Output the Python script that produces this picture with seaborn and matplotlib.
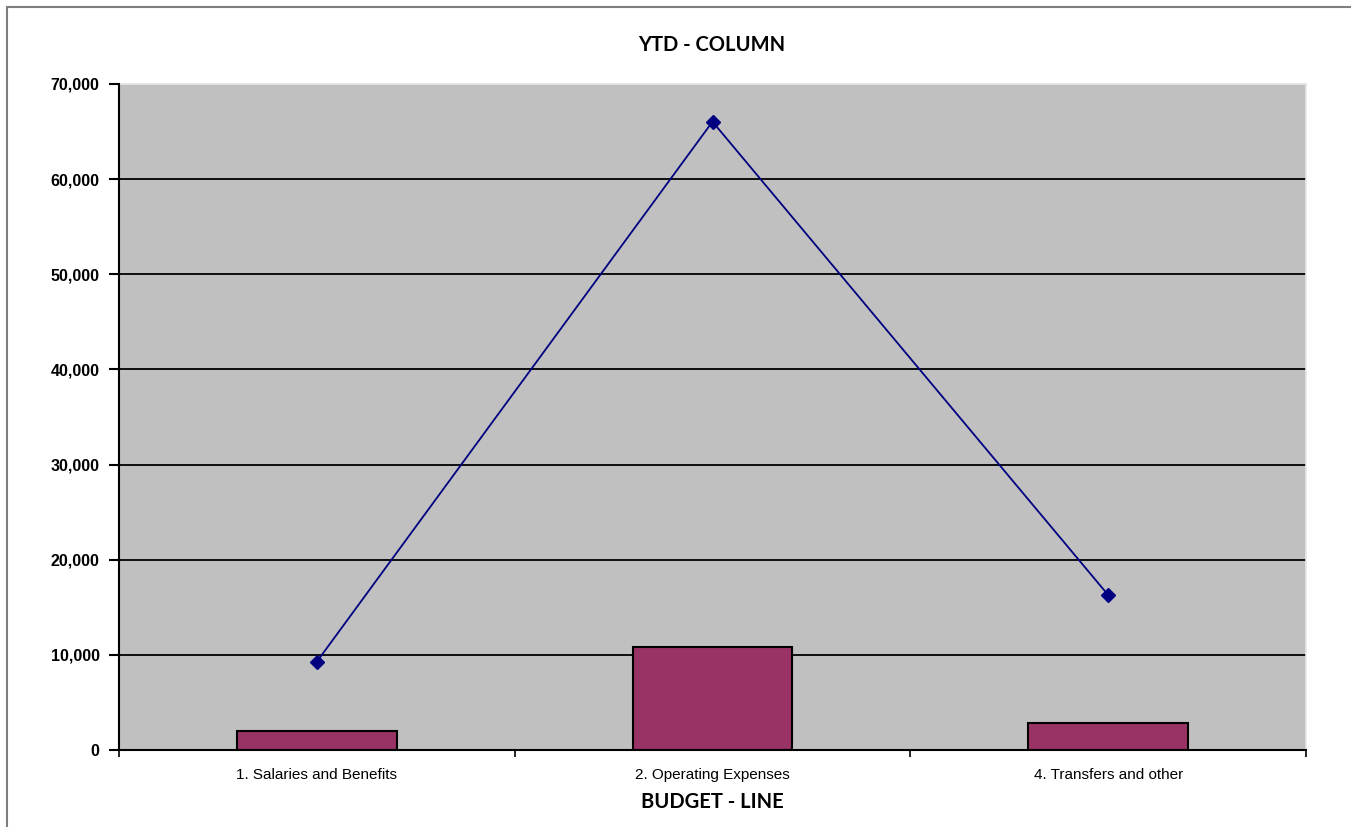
import matplotlib
matplotlib.use("Agg")
import matplotlib.pyplot as plt
import seaborn as sns
import pandas as pd
from matplotlib.patches import Rectangle
from matplotlib.ticker import FuncFormatter, FixedLocator

# Budget lines and year-to-date figures
categories = ["1. Salaries and Benefits", "2. Operating Expenses", "4. Transfers and other"]
column_values = [2030, 10800, 2870]
line_values = [9280, 66040, 16290]
y_ticks = [0, 10000, 20000, 30000, 40000, 50000, 60000, 70000]

df = pd.DataFrame({"category": categories, "column": column_values, "line": line_values})

sns.set_style("white")
plt.rcParams["font.family"] = ["Liberation Sans", "DejaVu Sans"]
plt.rcParams["text.color"] = "black"
plt.rcParams["xtick.color"] = "black"
plt.rcParams["ytick.color"] = "black"
plt.rcParams["xtick.labelcolor"] = "black"
plt.rcParams["ytick.labelcolor"] = "black"

fig = plt.figure(figsize=(13.51, 8.27), dpi=100)
ax = fig.add_axes([119 / 1351, 1 - 750 / 827, (1306 - 119) / 1351, (750 - 84) / 827])
ax.set_facecolor("#C0C0C0")

sns.barplot(data=df, x="category", y="column", color="#993366", width=0.404,
            edgecolor="black", linewidth=1.5, saturation=1, ax=ax, zorder=3)
sns.pointplot(data=df, x="category", y="line", color="#000080", markers="D",
              markersize=7, linewidth=1.3, ax=ax, zorder=4)

ax.set_xlim(-0.5, 2.5)
ax.set_ylim(0, 70000)
ax.set_yticks(y_ticks)
ax.yaxis.set_major_formatter(FuncFormatter(lambda v, p: f"{int(v):,}"))
ax.set_xticks(range(len(categories)))
ax.set_xticklabels(categories, fontsize=11)
ax.xaxis.set_minor_locator(FixedLocator([-0.5, 0.5, 1.5, 2.5]))
ax.tick_params(axis="x", which="major", length=0, pad=13, labelcolor="black")
ax.tick_params(axis="x", which="minor", length=5, width=1.2, color="black", direction="out", bottom=True)
ax.tick_params(axis="y", length=7, width=1.5, color="black", direction="out", left=True, pad=7,
               labelcolor="black")
for lab in ax.get_yticklabels():
    lab.set_fontweight("bold")
    lab.set_fontsize(11.5)

ax.grid(axis="y", color="black", linewidth=1.3, zorder=1)
ax.set_axisbelow(True)
ax.grid(axis="x", visible=False)
ax.get_ygridlines()[-1].set_visible(False)
for s in ["top", "right"]:
    ax.spines[s].set_color("#E6E6E6")
    ax.spines[s].set_linewidth(1.2)
for s in ["left", "bottom"]:
    ax.spines[s].set_color("black")
    ax.spines[s].set_linewidth(1.5)
    ax.spines[s].set_zorder(5)

ax.set_xlabel("")
ax.set_ylabel("")

fig.text(712 / 1351, 1 - 45 / 827, "YTD - COLUMN", ha="center", va="center", color="black",
         fontsize=14.5, fontweight="bold", family=["Lato", "DejaVu Sans"])
fig.text(712 / 1351, 1 - 802 / 827, "BUDGET - LINE", ha="center", va="center", color="black",
         fontsize=14.5, fontweight="bold", family=["Lato", "DejaVu Sans"])

# outer chart frame
fig.patches.append(Rectangle((7 / 1351, -0.05), 1.1, 1 - 7 / 827 + 0.05,
                             transform=fig.transFigure, fill=False,
                             edgecolor="#7F7F7F", linewidth=1.5))

fig.savefig("out.png", dpi=100)
